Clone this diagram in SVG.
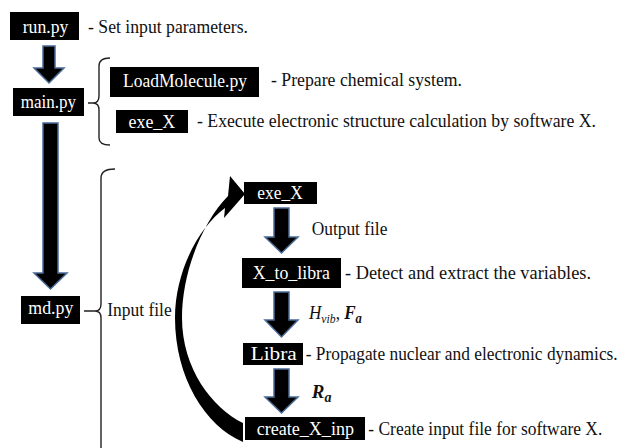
<svg xmlns="http://www.w3.org/2000/svg" width="633" height="448" viewBox="0 0 633 448">
<style>
.bg{fill:#fff}
.box{fill:#000}
.t{font-family:"Liberation Serif","Times New Roman",serif;font-size:19px;fill:#111}
.w{font-family:"Liberation Serif","Times New Roman",serif;font-size:19px;fill:#fff}
.m{font-family:"Liberation Serif","Times New Roman",serif;font-size:19px;fill:#111;font-style:italic}
.arr{fill:#000;stroke:#4a6a96;stroke-width:1.5;stroke-linejoin:miter}
.br{fill:none;stroke:#222;stroke-width:1.4}
.loop{fill:#000}
</style>
<rect class="bg" x="0" y="0" width="633" height="448"/>
<g id="connectors">
  <polygon class="arr" points="43,46 55,46 55,68 64,68 49,83 34,68 43,68"/>
  <polygon class="arr" points="43,123 58,123 58,273 67,273 50.5,289 34,273 43,273"/>
  <polygon class="arr" points="274,208 289,208 289,237 298,237 281.5,253 265,237 274,237"/>
  <polygon class="arr" points="274,292 289,292 289,320 298,320 281.5,337 265,320 274,320"/>
  <polygon class="arr" points="274,369 289,369 289,397 298,397 281.5,413 265,397 274,397"/>
  <path class="loop" d="M245,194 L224,218 L225,208 C198,228 175,272 175,318 C175,377 205,426 243,442 L243,423 C212,408 182,368 182,318 C182,270 204,220 228,196 L230,176 Z"/>
  <path class="br" d="M110,58 Q99,58 99,66 L99,96 Q99,103 93,103 Q99,103 99,110 L99,138 Q99,145 110,145 M88,103 L94,103"/>
  <path class="br" d="M115,169 Q101,169 101,178 L101,304 Q101,311 95,311 Q101,311 101,318 L101,450 M84,311 L96,311"/>
</g>
<g id="run">
  <rect class="box" x="10" y="12" width="69" height="28"/>
  <text class="w" x="22.7" y="33" textLength="45.6" lengthAdjust="spacingAndGlyphs">run.py</text>
  <text class="t" x="88" y="33" textLength="160" lengthAdjust="spacingAndGlyphs">- Set input parameters.</text>
</g>
<g id="main">
  <rect class="box" x="13" y="88" width="71" height="28"/>
  <text class="w" x="20.7" y="108" textLength="55.3" lengthAdjust="spacingAndGlyphs">main.py</text>
</g>
<g id="loadmolecule">
  <rect class="box" x="110" y="67" width="149" height="30"/>
  <text class="w" x="123" y="87" textLength="124" lengthAdjust="spacingAndGlyphs">LoadMolecule.py</text>
  <text class="t" x="271" y="86" textLength="191" lengthAdjust="spacingAndGlyphs">- Prepare chemical system.</text>
</g>
<g id="exeX1">
  <rect class="box" x="116" y="110" width="72" height="23"/>
  <text class="w" x="128.5" y="127.5" textLength="46.7" lengthAdjust="spacingAndGlyphs">exe_X</text>
  <text class="t" x="197" y="127" textLength="399" lengthAdjust="spacingAndGlyphs">- Execute electronic structure calculation by software X.</text>
</g>
<g id="md">
  <rect class="box" x="21" y="296" width="59" height="28"/>
  <text class="w" x="28.3" y="314" textLength="45" lengthAdjust="spacingAndGlyphs">md.py</text>
  <text class="t" x="107.3" y="316" textLength="64.4" lengthAdjust="spacingAndGlyphs">Input file</text>
</g>
<g id="exeX2">
  <rect class="box" x="244" y="182" width="73" height="22"/>
  <text class="w" x="257.3" y="199" textLength="45.4" lengthAdjust="spacingAndGlyphs">exe_X</text>
  <text class="t" x="311.7" y="235" textLength="75.7" lengthAdjust="spacingAndGlyphs">Output file</text>
</g>
<g id="xtolibra">
  <rect class="box" x="242" y="258" width="99" height="30"/>
  <text class="w" x="252.7" y="279" textLength="77.3" lengthAdjust="spacingAndGlyphs">X_to_libra</text>
  <text class="t" x="345" y="279" textLength="246" lengthAdjust="spacingAndGlyphs">- Detect and extract the variables.</text>
  <text class="m" transform="translate(309,319) scale(0.9,1)"><tspan>H</tspan><tspan font-size="13" dy="4">vib</tspan><tspan dy="-4" font-style="normal">, </tspan><tspan font-weight="bold">F</tspan><tspan font-weight="bold" font-size="14" dy="4">a</tspan></text>
</g>
<g id="libra">
  <rect class="box" x="243" y="343" width="60" height="22"/>
  <text class="w" x="250.7" y="360" textLength="46" lengthAdjust="spacingAndGlyphs">Libra</text>
  <text class="t" x="305.7" y="360" textLength="312" lengthAdjust="spacingAndGlyphs">- Propagate nuclear and electronic dynamics.</text>
  <text class="m" x="311.7" y="398"><tspan font-weight="bold">R</tspan><tspan font-weight="bold" font-size="14" dy="4">a</tspan></text>
</g>
<g id="createXinp">
  <rect class="box" x="245" y="417" width="120" height="23"/>
  <text class="w" x="256.7" y="435" textLength="97.3" lengthAdjust="spacingAndGlyphs">create_X_inp</text>
  <text class="t" x="368.3" y="435" textLength="234" lengthAdjust="spacingAndGlyphs">- Create input file for software X.</text>
</g>
</svg>
